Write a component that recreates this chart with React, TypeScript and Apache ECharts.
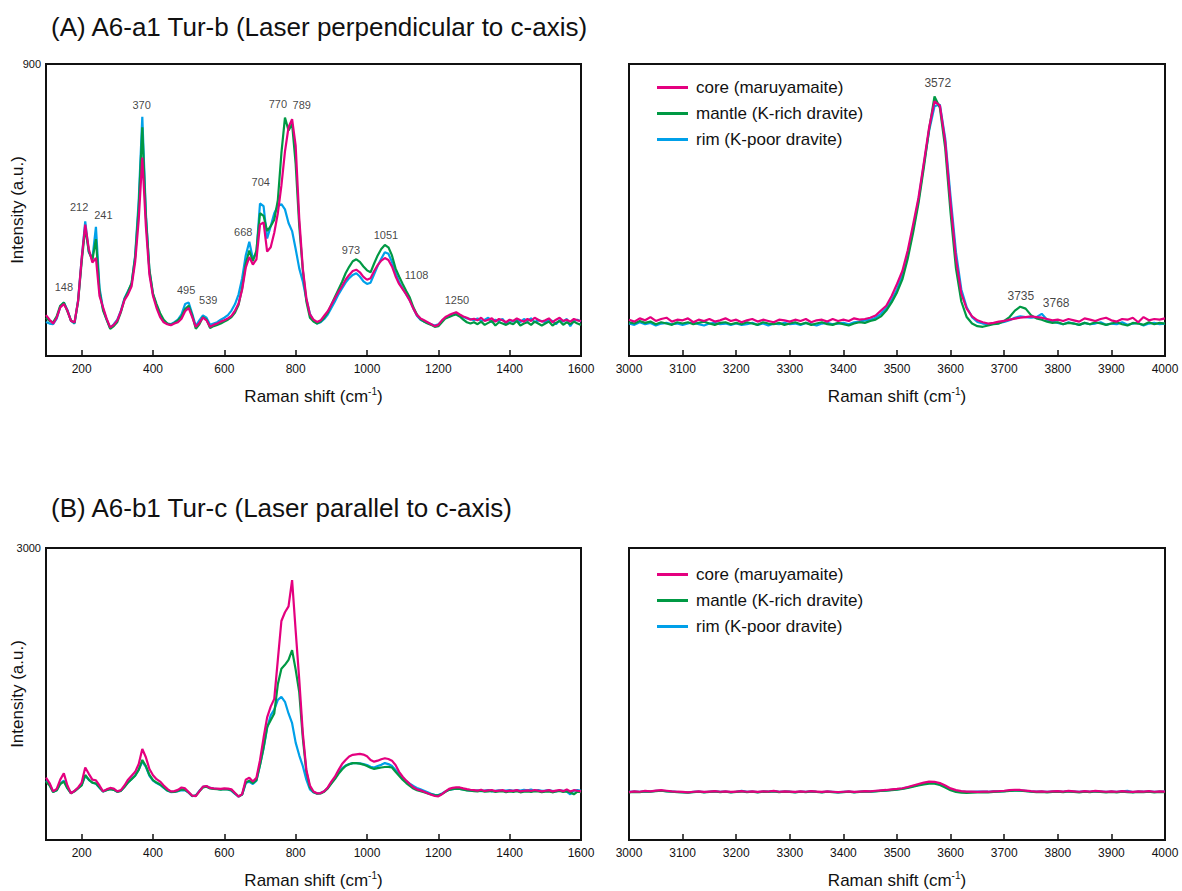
import React, { useEffect, useRef } from "react";
import * as echarts from "echarts";

// ---------- Raman shift grids (cm-1) ----------
const shiftLow = [
  100, 110, 120, 130, 140, 150, 160, 170, 180, 190,
  200, 210, 220, 230, 240, 250, 260, 270, 280, 290,
  300, 310, 320, 330, 340, 350, 360, 370, 380, 390,
  400, 410, 420, 430, 440, 450, 460, 470, 480, 490,
  500, 510, 520, 530, 540, 550, 560, 570, 580, 590,
  600, 610, 620, 630, 640, 650, 660, 670, 680, 690,
  700, 710, 720, 730, 740, 750, 760, 770, 780, 790,
  800, 810, 820, 830, 840, 850, 860, 870, 880, 890,
  900, 910, 920, 930, 940, 950, 960, 970, 980, 990,
  1000, 1010, 1020, 1030, 1040, 1050, 1060, 1070, 1080, 1090,
  1100, 1110, 1120, 1130, 1140, 1150, 1160, 1170, 1180, 1190,
  1200, 1210, 1220, 1230, 1240, 1250, 1260, 1270, 1280, 1290,
  1300, 1310, 1320, 1330, 1340, 1350, 1360, 1370, 1380, 1390,
  1400, 1410, 1420, 1430, 1440, 1450, 1460, 1470, 1480, 1490,
  1500, 1510, 1520, 1530, 1540, 1550, 1560, 1570, 1580, 1590,
  1600,
];
const shiftOH = [
  3000, 3010, 3020, 3030, 3040, 3050, 3060, 3070, 3080, 3090,
  3100, 3110, 3120, 3130, 3140, 3150, 3160, 3170, 3180, 3190,
  3200, 3210, 3220, 3230, 3240, 3250, 3260, 3270, 3280, 3290,
  3300, 3310, 3320, 3330, 3340, 3350, 3360, 3370, 3380, 3390,
  3400, 3410, 3420, 3430, 3440, 3450, 3460, 3470, 3480, 3490,
  3500, 3510, 3520, 3530, 3540, 3550, 3560, 3570, 3580, 3590,
  3600, 3610, 3620, 3630, 3640, 3650, 3660, 3670, 3680, 3690,
  3700, 3710, 3720, 3730, 3740, 3750, 3760, 3770, 3780, 3790,
  3800, 3810, 3820, 3830, 3840, 3850, 3860, 3870, 3880, 3890,
  3900, 3910, 3920, 3930, 3940, 3950, 3960, 3970, 3980, 3990,
  4000,
];

// ---------- (A) perpendicular, low-wavenumber region ----------
const coreA_low = [
  126, 112, 100, 118, 150, 160, 140, 108, 104, 170,
  300, 405, 330, 288, 302, 185, 150, 115, 88, 96,
  110, 138, 172, 190, 215, 290, 420, 612, 400, 250,
  185, 148, 120, 104, 98, 95, 100, 104, 115, 138,
  148, 120, 90, 102, 118, 110, 90, 96, 100, 106,
  110, 116, 124, 140, 162, 205, 272, 305, 282, 298,
  405, 412, 322, 335, 380, 440, 525, 630, 705, 730,
  648, 425, 270, 178, 128, 112, 105, 110, 124, 138,
  158, 178, 198, 215, 235, 250, 262, 266, 258, 244,
  235, 240, 262, 280, 294, 302, 296, 276, 246, 222,
  206, 190, 170, 146, 126, 116, 110, 104, 98, 92,
  96, 110, 120, 126, 131, 135, 128, 122, 118, 112,
  115, 110, 118, 108, 112, 116, 106, 114, 110, 104,
  112, 108, 116, 110, 106, 114, 108, 118, 112, 106,
  110, 116, 104, 112, 118, 108, 112, 106, 114, 110,
  108,
];
const mantleA_low = [
  118, 108, 104, 122, 155, 165, 138, 110, 102, 168,
  290, 395, 322, 296, 360, 200, 140, 112, 84, 92,
  105, 135, 175, 198, 225, 305, 460, 705, 430, 265,
  192, 160, 132, 112, 100, 96, 102, 110, 122, 145,
  155, 125, 84, 98, 120, 112, 86, 92, 96, 100,
  106, 112, 120, 134, 158, 210, 285, 325, 292, 325,
  440, 432, 385, 400, 420, 480, 625, 735, 695, 715,
  592, 402, 265, 168, 118, 106, 100, 106, 118, 134,
  158, 182, 205, 228, 255, 275, 292, 298, 290, 276,
  264, 258, 285, 310, 330, 342, 335, 310, 270, 245,
  222, 200, 180, 150, 128, 114, 106, 100, 96, 90,
  92, 104, 116, 120, 125, 128, 122, 112, 104, 100,
  104, 98, 106, 96, 102, 108, 94, 104, 100, 96,
  102, 98, 108, 94, 100, 104, 96, 106, 100, 94,
  100, 106, 94, 102, 108, 96, 104, 98, 106, 100,
  96,
];
const rimA_low = [
  105, 100, 98, 115, 152, 165, 142, 108, 100, 172,
  300, 415, 320, 300, 398, 210, 145, 112, 86, 98,
  112, 140, 178, 200, 222, 310, 480, 737, 440, 262,
  190, 155, 125, 106, 100, 98, 104, 112, 128, 160,
  165, 130, 92, 110, 125, 118, 96, 100, 104, 112,
  118, 126, 140, 160, 190, 240, 310, 352, 300, 318,
  470, 462, 362, 400, 440, 462, 468, 452, 410, 385,
  330, 270, 230, 175, 130, 108, 100, 104, 114, 128,
  148, 168, 190, 208, 226, 240, 250, 255, 245, 230,
  222, 226, 252, 278, 300, 320, 315, 290, 255, 228,
  208, 190, 172, 146, 124, 112, 106, 102, 98, 94,
  98, 108, 118, 122, 128, 132, 126, 120, 116, 114,
  110, 116, 108, 112, 118, 104, 112, 108, 114, 100,
  110, 106, 112, 104, 114, 108, 116, 104, 110, 108,
  104, 112, 108, 98, 110, 106, 114, 92, 108, 112,
  106,
];

// ---------- (A) perpendicular, OH region ----------
const coreA_OH = [
  112, 106, 116, 110, 120, 108, 114, 118, 106, 112,
  110, 116, 104, 112, 108, 114, 106, 110, 116, 108,
  112, 104, 110, 114, 106, 112, 108, 104, 112, 110,
  106, 112, 108, 114, 104, 110, 112, 106, 114, 108,
  112, 108, 116, 112, 114, 118, 125, 140, 155, 185,
  222, 262, 325, 405, 487, 595, 705, 785, 772, 660,
  470, 300, 192, 146, 122, 110, 104, 100, 102, 106,
  108, 112, 115, 118, 120, 122, 120, 118, 114, 110,
  112, 108, 114, 110, 106, 116, 112, 108, 114, 118,
  110, 106, 114, 112, 118, 104, 120, 110, 114, 112,
  116,
];
const mantleA_OH = [
  104, 100, 108, 102, 106, 98, 104, 100, 96, 104,
  100, 104, 98, 102, 106, 100, 96, 102, 104, 98,
  102, 98, 104, 100, 96, 104, 100, 98, 102, 96,
  100, 104, 98, 102, 96, 100, 104, 98, 96, 102,
  98, 94, 100, 104, 102, 108, 112, 122, 140, 165,
  196, 236, 300, 380, 470, 580, 700, 800, 765, 640,
  440, 270, 168, 120, 100, 92, 90, 94, 98, 100,
  108, 120, 140, 152, 146, 126, 116, 112, 106, 102,
  104, 98, 102, 100, 96, 102, 98, 104, 100, 96,
  100, 104, 98, 94, 102, 100, 96, 104, 98, 102,
  100,
];
const rimA_OH = [
  100, 96, 104, 98, 102, 94, 100, 102, 98, 100,
  96, 100, 104, 98, 94, 100, 102, 98, 100, 96,
  100, 96, 98, 102, 96, 100, 94, 100, 98, 102,
  98, 100, 96, 102, 98, 94, 100, 102, 98, 100,
  102, 98, 104, 106, 110, 112, 118, 130, 148, 172,
  205, 250, 310, 390, 480, 590, 695, 770, 775, 670,
  490, 320, 205, 150, 120, 105, 100, 98, 100, 102,
  105, 110, 118, 122, 120, 118, 120, 130, 112, 106,
  102, 98, 104, 100, 96, 102, 98, 100, 104, 96,
  100, 98, 104, 96, 100, 102, 94, 100, 102, 98,
  100,
];

// ---------- (B) parallel, low-wavenumber region ----------
const coreB_low = [
  640, 585, 500, 525, 620, 685, 560, 480, 505, 540,
  590, 745, 680, 620, 612, 560, 500, 520, 535, 528,
  500, 512, 560, 620, 660, 700, 780, 935, 850, 730,
  665, 625, 600, 560, 525, 500, 502, 515, 540, 530,
  492, 455, 450, 500, 548, 555, 535, 530, 528, 525,
  530, 528, 520, 482, 445, 472, 620, 640, 600, 640,
  820, 1050, 1260, 1370, 1450, 1850, 2250, 2340, 2400, 2670,
  2150, 1650, 1100, 720, 560, 498, 480, 482, 500, 540,
  600, 650, 718, 780, 822, 858, 875, 880, 884, 878,
  860, 822, 805, 815, 830, 840, 832, 815, 770, 700,
  650, 610, 575, 542, 520, 510, 495, 480, 465, 452,
  448, 470, 500, 525, 535, 540, 540, 530, 522, 516,
  512, 508, 516, 504, 510, 514, 502, 508, 512, 500,
  508, 504, 512, 500, 506, 510, 504, 514, 508, 500,
  506, 512, 500, 508, 514, 502, 520, 498, 512, 506,
  500,
];
const mantleB_low = [
  600, 560, 492, 510, 575, 600, 530, 480, 500, 530,
  560, 668, 620, 590, 580, 540, 498, 512, 522, 515,
  495, 505, 545, 590, 625, 660, 720, 822, 760, 668,
  615, 590, 570, 540, 510, 495, 495, 505, 520, 515,
  488, 452, 455, 500, 540, 548, 530, 525, 522, 518,
  522, 520, 512, 478, 448, 468, 590, 610, 585, 615,
  770, 950, 1160, 1230, 1300, 1600, 1760, 1800, 1850, 1950,
  1750, 1520, 1050, 700, 540, 492, 475, 478, 495, 530,
  580, 625, 680, 725, 760, 778, 790, 790, 785, 775,
  760, 742, 730, 738, 745, 750, 752, 745, 702, 660,
  620, 585, 555, 528, 512, 502, 490, 478, 468, 460,
  458, 472, 495, 515, 522, 528, 525, 518, 510, 506,
  502, 498, 506, 496, 500, 504, 494, 500, 502, 492,
  498, 494, 502, 490, 496, 500, 494, 502, 498, 492,
  496, 500, 490, 498, 504, 494, 500, 488, 470, 496,
  492,
];
const rimB_low = [
  610, 570, 495, 512, 580, 610, 535, 482, 502, 532,
  565, 660, 618, 588, 578, 538, 498, 514, 524, 516,
  496, 506, 548, 592, 628, 662, 725, 805, 752, 660,
  610, 585, 565, 535, 508, 492, 494, 502, 512, 510,
  486, 450, 458, 505, 545, 552, 535, 528, 524, 520,
  524, 520, 505, 474, 446, 466, 585, 598, 575, 610,
  770, 940, 1150, 1280, 1340, 1440, 1470, 1420, 1300, 1200,
  1000, 870, 760, 620, 520, 488, 478, 482, 500, 535,
  585, 632, 690, 735, 765, 780, 790, 790, 788, 780,
  770, 752, 745, 760, 772, 790, 780, 760, 720, 680,
  640, 605, 578, 555, 535, 520, 505, 490, 475, 465,
  462, 478, 498, 515, 522, 528, 526, 520, 512, 508,
  505, 510, 502, 508, 512, 500, 506, 510, 504, 508,
  512, 506, 514, 508, 516, 510, 518, 506, 512, 504,
  508, 514, 504, 500, 510, 506, 498, 470, 508, 512,
  504,
];

// ---------- (B) parallel, OH region ----------
const coreB_OH = [
  492, 500, 496, 504, 500, 508, 512, 506, 500, 496,
  494, 490, 496, 500, 494, 498, 502, 496, 500, 494,
  498, 502, 496, 500, 494, 500, 498, 504, 496, 500,
  498, 494, 500, 496, 502, 498, 494, 500, 496, 492,
  496, 500, 494, 498, 502, 500, 506, 510, 514, 520,
  525, 532, 545, 560, 575, 590, 600, 598, 585, 560,
  530, 512, 502, 498, 496, 494, 498, 496, 500, 502,
  506, 512, 516, 514, 508, 502, 498, 500, 496, 500,
  502, 498, 504, 500, 496, 502, 498, 504, 500, 496,
  500, 496, 502, 498, 494, 500, 498, 502, 496, 500,
  498,
];
const mantleB_OH = [
  490, 494, 492, 498, 496, 502, 506, 500, 496, 492,
  490, 486, 492, 496, 490, 494, 498, 492, 496, 490,
  494, 498, 492, 496, 490, 496, 494, 500, 492, 496,
  494, 490, 496, 492, 498, 494, 490, 496, 492, 488,
  492, 496, 490, 494, 498, 496, 500, 504, 508, 512,
  518, 524, 535, 548, 560, 572, 580, 578, 565, 540,
  512, 494, 486, 484, 486, 488, 492, 490, 494, 496,
  500, 504, 508, 506, 502, 496, 492, 494, 490, 494,
  496, 492, 498, 494, 490, 496, 492, 498, 494, 490,
  494, 490, 496, 492, 488, 494, 492, 496, 490, 494,
  492,
];
const rimB_OH = [
  494, 498, 494, 500, 498, 504, 506, 502, 498, 494,
  492, 488, 494, 498, 492, 496, 500, 494, 498, 492,
  496, 506, 494, 498, 492, 498, 496, 502, 494, 498,
  496, 492, 498, 494, 500, 496, 492, 498, 494, 490,
  494, 498, 492, 496, 500, 498, 502, 506, 510, 515,
  520, 528, 540, 552, 565, 578, 588, 586, 572, 548,
  520, 504, 496, 494, 494, 496, 498, 496, 500, 500,
  502, 506, 510, 508, 504, 498, 496, 498, 494, 498,
  500, 496, 502, 498, 494, 500, 496, 502, 498, 494,
  498, 494, 500, 504, 492, 498, 496, 500, 494, 498,
  496,
];

// ---------- peak annotations ----------
const peaksA_low = ["148", "212", "241", "370", "495", "539", "668", "704", "770", "789", "973", "1051", "1108", "1250"];
const peaksA_lowAnchorX = [150, 193, 261, 368, 493, 555, 653, 702, 750, 817, 955, 1053, 1139, 1252];
const peaksA_lowAnchorY = [212, 460, 435, 774, 203, 173, 383, 537, 777, 774, 327, 373, 250, 173];
const peaksA_OH = ["3572", "3735", "3768"];
const peaksA_OHAnchorX = [3576, 3731, 3797];
const peaksA_OHAnchorY = [842, 186, 164];

// ---------- axes ----------
const ticksLow = [200, 400, 600, 800, 1000, 1200, 1400, 1600];
const seriesNames = ["core (maruyamaite)", "mantle (K-rich dravite)", "rim (K-poor dravite)"];
const seriesColors = ["#E4007F", "#009944", "#00A0E9"];
const titleA = "(A) A6-a1 Tur-b (Laser perpendicular to c-axis)";
const titleB = "(B) A6-b1 Tur-c (Laser parallel to c-axis)";

const FONT = "'Liberation Sans', Arial, Helvetica, sans-serif";
const INK = "#111111";

function pairs(xs: number[], ys: number[]) {
  return xs.map((x, i) => [x, ys[i]]);
}

export default function App() {
  const ref = useRef<HTMLDivElement>(null);

  useEffect(() => {
    if (!ref.current) return;
    const chart = echarts.init(ref.current, undefined, { renderer: "svg" });

    const grids = [
      { left: 46, top: 64, width: 535, height: 292 },
      { left: 629, top: 64, width: 536, height: 292 },
      { left: 46, top: 548, width: 535, height: 292 },
      { left: 629, top: 548, width: 536, height: 292 },
    ].map((g) => ({ ...g, show: true, borderColor: INK, borderWidth: 2, backgroundColor: "transparent" }));

    const xName = "{base|Raman shift (cm}{sup|-1}{base|)}";
    const xNameStyle = {
      rich: {
        base: { fontSize: 17, color: INK, fontFamily: FONT, lineHeight: 20 },
        sup: { fontSize: 10, color: INK, fontFamily: FONT, lineHeight: 20, verticalAlign: "top", padding: [0, 0, 10, 0] },
      },
    };
    const axisLine = { show: true, lineStyle: { color: INK, width: 2 } };
    const plain = (v: number) => String(v);

    const mkX = (gi: number, low: boolean) => ({
      gridIndex: gi,
      type: "value",
      min: low ? 100 : 3000,
      max: low ? 1600 : 4000,
      interval: low ? undefined : 100,
      axisLine,
      axisTick: low
        ? { show: true, inside: true, length: 6, lineStyle: { color: INK, width: 1.5 }, customValues: ticksLow }
        : { show: true, inside: true, length: 6, lineStyle: { color: INK, width: 1.5 } },
      axisLabel: low
        ? { customValues: ticksLow, formatter: plain, fontSize: 12, color: INK, fontFamily: FONT, margin: 7 }
        : { formatter: plain, fontSize: 12, color: INK, fontFamily: FONT, margin: 7, showMinLabel: true, showMaxLabel: true },
      splitLine: { show: false },
      name: xName,
      nameLocation: "middle",
      nameGap: 30,
      nameMoveOverlap: false,
      nameTextStyle: xNameStyle,
    });

    const mkY = (gi: number, max: number, left: boolean) => ({
      gridIndex: gi,
      type: "value",
      min: 0,
      max,
      interval: max,
      axisLine,
      axisTick: { show: false },
      axisLabel: left
        ? { show: true, showMinLabel: false, formatter: plain, fontSize: 11, color: INK, fontFamily: FONT, margin: 5 }
        : { show: false },
      splitLine: { show: false },
      name: left ? "Intensity (a.u.)" : "",
      nameLocation: "middle",
      nameGap: 20,
      nameMoveOverlap: false,
      nameTextStyle: { fontSize: 17, color: INK, fontFamily: FONT },
    });

    const panels = [
      { xs: shiftLow, ys: [coreA_low, mantleA_low, rimA_low] },
      { xs: shiftOH, ys: [coreA_OH, mantleA_OH, rimA_OH] },
      { xs: shiftLow, ys: [coreB_low, mantleB_low, rimB_low] },
      { xs: shiftOH, ys: [coreB_OH, mantleB_OH, rimB_OH] },
    ];

    const series: any[] = [];
    panels.forEach((p, gi) => {
      // draw rim first, then mantle, core on top
      [2, 1, 0].forEach((k) => {
        series.push({
          type: "line",
          name: seriesNames[k],
          xAxisIndex: gi,
          yAxisIndex: gi,
          data: pairs(p.xs, p.ys[k]),
          showSymbol: false,
          symbol: "none",
          lineStyle: { color: seriesColors[k], width: 2.2 },
          itemStyle: { color: seriesColors[k] },
          z: 3 + (2 - k),
        });
      });
    });

    const labelSeries = (gi: number, names: string[], xs: number[], ys: number[], size: number) => ({
      type: "scatter",
      name: "peaks" + gi,
      xAxisIndex: gi,
      yAxisIndex: gi,
      symbolSize: 1,
      itemStyle: { color: "rgba(0,0,0,0)" },
      silent: true,
      z: 10,
      data: names.map((n, i) => ({ name: n, value: [xs[i], ys[i]] })),
      label: {
        show: true,
        position: "inside",
        formatter: "{b}",
        fontSize: size,
        color: INK,
        fontFamily: FONT,
      },
    });
    series.push(labelSeries(0, peaksA_low, peaksA_lowAnchorX, peaksA_lowAnchorY, 11));
    series.push(labelSeries(1, peaksA_OH, peaksA_OHAnchorX, peaksA_OHAnchorY, 12));

    const legendBase = {
      orient: "vertical",
      left: 652,
      data: seriesNames,
      icon: "rect",
      itemWidth: 31,
      itemHeight: 3,
      itemGap: 9,
      selectedMode: false,
      textStyle: { fontSize: 17, color: INK, fontFamily: FONT, padding: [0, 0, 0, 3] },
    };

    chart.setOption({
      animation: false,
      backgroundColor: "#ffffff",
      textStyle: { fontFamily: FONT },
      title: [
        { text: titleA, left: 46, top: 9, textStyle: { fontSize: 26, fontWeight: "normal", color: INK, fontFamily: FONT } },
        { text: titleB, left: 46, top: 490, textStyle: { fontSize: 26, fontWeight: "normal", color: INK, fontFamily: FONT } },
      ],
      legend: [
        { ...legendBase, top: 74 },
        { ...legendBase, top: 561 },
      ],
      grid: grids,
      xAxis: [mkX(0, true), mkX(1, false), mkX(2, true), mkX(3, false)],
      yAxis: [mkY(0, 900, true), mkY(1, 900, false), mkY(2, 3000, true), mkY(3, 3000, false)],
      series,
    });

    return () => chart.dispose();
  }, []);

  return (
    <div
      ref={ref}
      style={{ position: "absolute", left: 0, top: 0, width: 1182, height: 891, background: "#fff" }}
    />
  );
}
